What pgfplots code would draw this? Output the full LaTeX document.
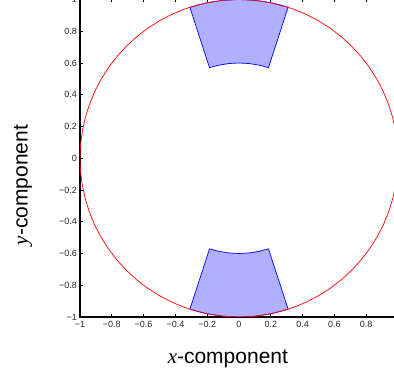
\documentclass[border=0pt]{standalone}
\usepackage{pgfplots}
\pgfplotsset{compat=1.18}
\usepackage{fontspec}
\setmainfont{Liberation Sans}
\newfontfamily\serifx{Liberation Serif}

\begin{document}
\begin{tikzpicture}
\begin{axis}[
  at={(0pt,0pt)}, anchor=south west,
  scale only axis, width=318pt, height=317.5pt,
  xmin=-1, xmax=1, ymin=-1, ymax=1,
  axis line style={line width=1.1pt, black},
  tick align=inside, major tick length=3pt,
  tick style={line width=0.6pt, black},
  xtick={-1,-0.8,-0.6,-0.4,-0.2,0,0.2,0.4,0.6,0.8,1},
  ytick={-1,-0.8,-0.6,-0.4,-0.2,0,0.2,0.4,0.6,0.8,1},
  xticklabels={−1,−0.8,−0.6,−0.4,−0.2,0,0.2,0.4,0.6,0.8,1},
  yticklabels={−1,−0.8,−0.6,−0.4,−0.2,0,0.2,0.4,0.6,0.8,1},
  ticklabel style={font=\fontsize{9}{10}\selectfont, text=black!85},
  xticklabel style={inner sep=1pt, yshift=-3pt},
  yticklabel style={inner sep=1pt, xshift=-2pt},
  xlabel={{\serifx\itshape x}-component},
  ylabel={{\serifx\itshape y}-component},
  label style={font=\fontsize{21}{24}\selectfont},
  xlabel style={at={(axis description cs:0.465,-0.146)}, anchor=base},
  ylabel style={at={(axis description cs:-0.165,0.416)}, anchor=base},
]
% top sector
\addplot[draw=blue, fill=blue!31, line width=0.7pt] coordinates {
(0.3090,0.9511) (0.2079,0.9781) (0.1045,0.9945) (0,1) (-0.1045,0.9945) (-0.2079,0.9781) (-0.3090,0.9511)
(-0.1854,0.5706) (-0.1247,0.5869) (-0.0627,0.5967) (0,0.6) (0.0627,0.5967) (0.1247,0.5869) (0.1854,0.5706)
} -- cycle;
% bottom sector
\addplot[draw=blue, fill=blue!31, line width=0.7pt] coordinates {
(0.3090,-0.9511) (0.2079,-0.9781) (0.1045,-0.9945) (0,-1) (-0.1045,-0.9945) (-0.2079,-0.9781) (-0.3090,-0.9511)
(-0.1854,-0.5706) (-0.1247,-0.5869) (-0.0627,-0.5967) (0,-0.6) (0.0627,-0.5967) (0.1247,-0.5869) (0.1854,-0.5706)
} -- cycle;
% unit circle
\addplot[red, line width=0.7pt] coordinates {
(1,0) (0.9962,0.0872) (0.9848,0.1736) (0.9659,0.2588) (0.9397,0.3420) (0.9063,0.4226) (0.8660,0.5) (0.8192,0.5736) (0.7660,0.6428) (0.7071,0.7071) (0.6428,0.7660) (0.5736,0.8192) (0.5,0.8660) (0.4226,0.9063) (0.3420,0.9397) (0.2588,0.9659) (0.1736,0.9848) (0.0872,0.9962)
(0,1) (-0.0872,0.9962) (-0.1736,0.9848) (-0.2588,0.9659) (-0.3420,0.9397) (-0.4226,0.9063) (-0.5,0.8660) (-0.5736,0.8192) (-0.6428,0.7660) (-0.7071,0.7071) (-0.7660,0.6428) (-0.8192,0.5736) (-0.8660,0.5) (-0.9063,0.4226) (-0.9397,0.3420) (-0.9659,0.2588) (-0.9848,0.1736) (-0.9962,0.0872)
(-1,0) (-0.9962,-0.0872) (-0.9848,-0.1736) (-0.9659,-0.2588) (-0.9397,-0.3420) (-0.9063,-0.4226) (-0.8660,-0.5) (-0.8192,-0.5736) (-0.7660,-0.6428) (-0.7071,-0.7071) (-0.6428,-0.7660) (-0.5736,-0.8192) (-0.5,-0.8660) (-0.4226,-0.9063) (-0.3420,-0.9397) (-0.2588,-0.9659) (-0.1736,-0.9848) (-0.0872,-0.9962)
(0,-1) (0.0872,-0.9962) (0.1736,-0.9848) (0.2588,-0.9659) (0.3420,-0.9397) (0.4226,-0.9063) (0.5,-0.8660) (0.5736,-0.8192) (0.6428,-0.7660) (0.7071,-0.7071) (0.7660,-0.6428) (0.8192,-0.5736) (0.8660,-0.5) (0.9063,-0.4226) (0.9397,-0.3420) (0.9659,-0.2588) (0.9848,-0.1736) (0.9962,-0.0872)
} -- cycle;
\end{axis}
\pgfresetboundingbox
\useasboundingbox (-80pt,-58pt) rectangle (314pt,317pt);
\end{tikzpicture}
\end{document}
